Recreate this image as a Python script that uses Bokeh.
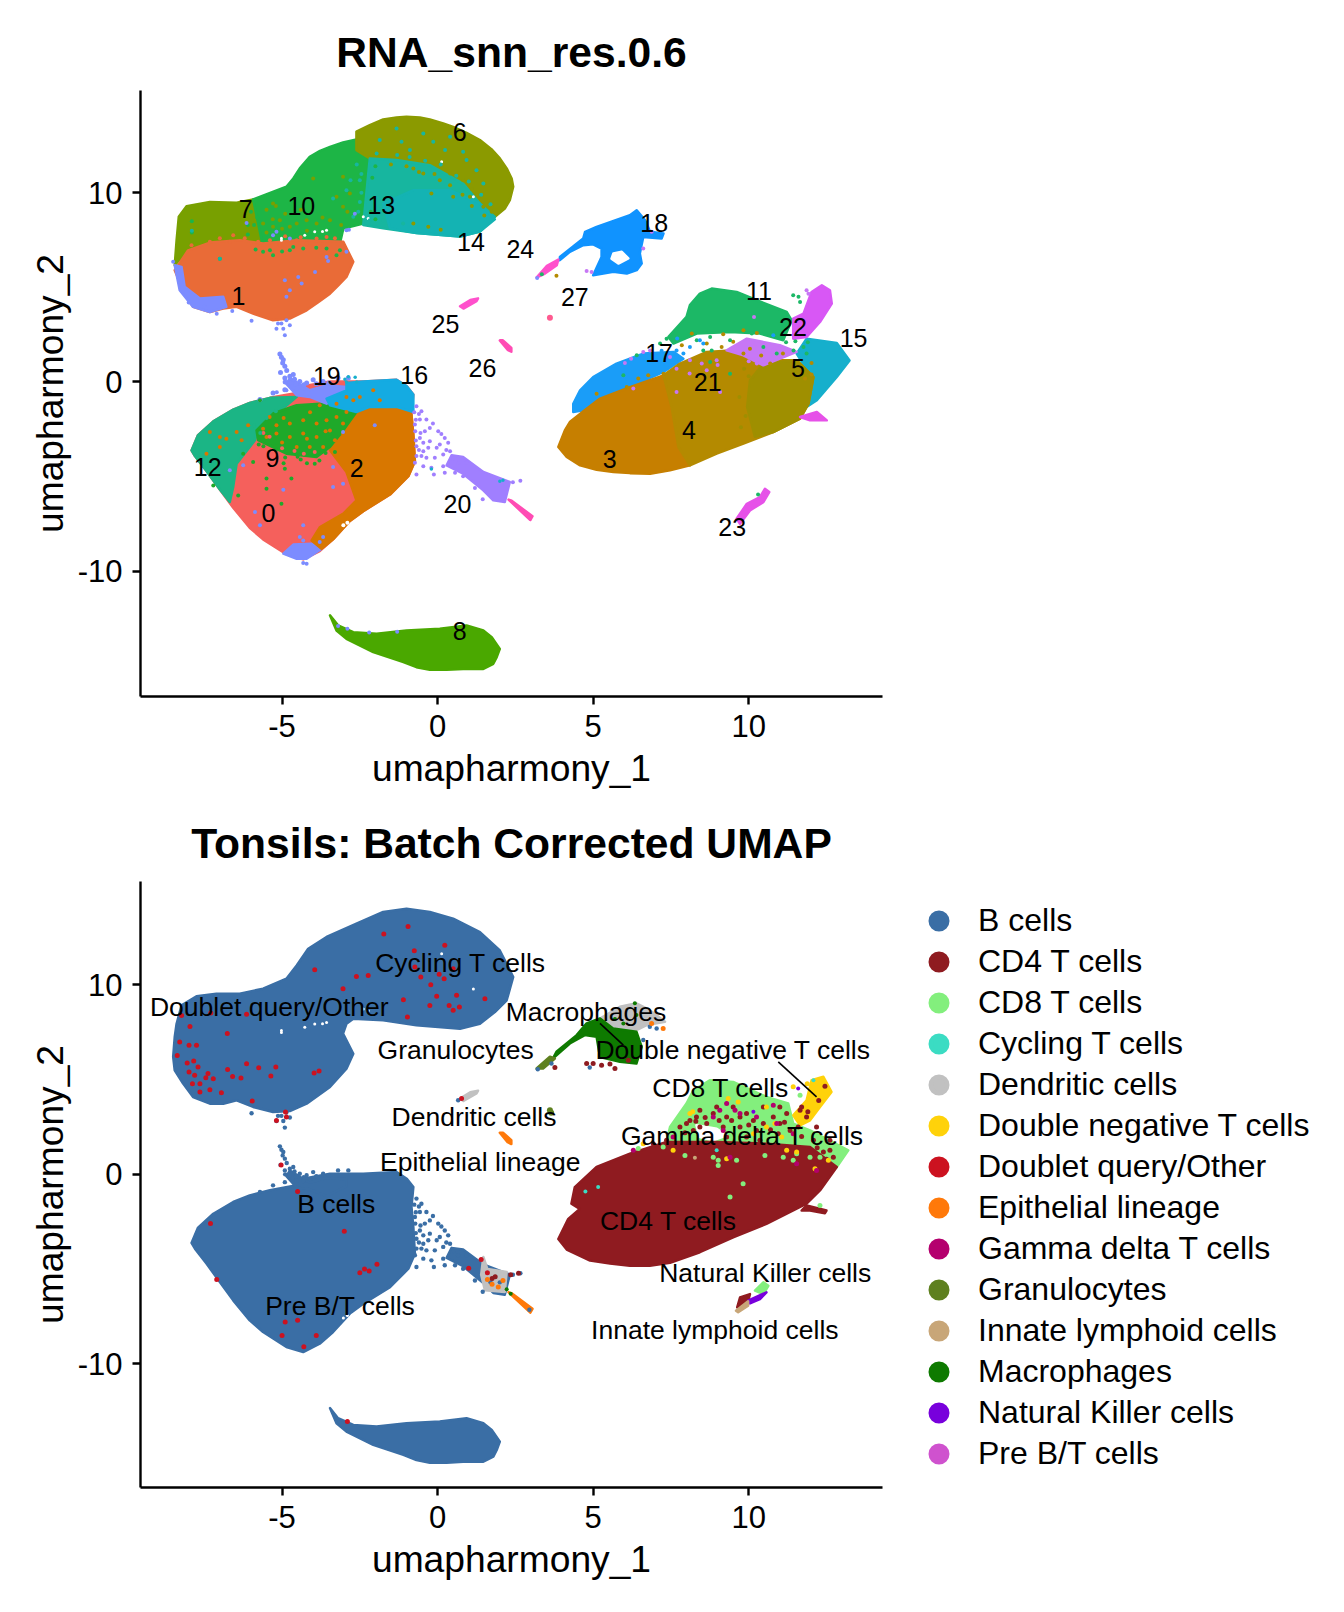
from bokeh.plotting import figure
from bokeh.layouts import column
from bokeh.models import Range1d, FixedTicker, Legend, LegendItem
from bokeh.core.properties import value
from bokeh.embed import file_html
from bokeh.resources import INLINE

FONT = "Liberation Sans"

# ---------- traced outlines of the dense point clouds, UMAP coordinates ----------
lower_all = [(-7.91,-3.62),(-7.7,-2.81),(-7.21,-2.08),(-6.57,-1.46),(-6.04,-1.11),(-5.39,-0.84),(-4.53,-0.58),(-4.32,-0.23),(-3.46,0.03),(-2.39,0.03),(-1.32,0.12),(-0.99,-0.23),(-0.78,-0.67),(-0.84,-1.72),(-0.78,-2.78),(-0.73,-4.19),(-0.94,-4.98),(-1.53,-5.95),(-2.39,-6.83),(-2.82,-7.35),(-3.36,-8.32),(-3.79,-8.94),(-4.32,-9.38),(-4.86,-9.11),(-5.61,-8.32),(-6.04,-7.71),(-6.57,-6.65),(-7.0,-5.68),(-7.43,-4.71),(-7.8,-3.92)]
upper_all = [(-8.5,6.2),(-8.45,7.25),(-8.39,7.95),(-8.23,8.92),(-7.75,9.4),(-7.11,9.54),(-6.36,9.54),(-5.61,9.8),(-4.86,10.33),(-4.53,11.03),(-4.16,11.91),(-3.57,12.53),(-2.61,13.23),(-1.75,13.85),(-1.0,14.02),(-0.25,13.85),(0.5,13.5),(1.36,12.79),(2.0,11.82),(2.43,10.42),(2.22,9.19),(1.84,8.57),(1.36,7.95),(0.72,7.69),(-0.68,7.87),(-1.75,8.13),(-2.71,8.22),(-2.93,7.95),(-3.04,7.43),(-2.71,6.37),(-2.93,5.58),(-3.46,4.61),(-4.21,3.73),(-4.75,3.34),(-5.29,3.29),(-5.93,3.56),(-6.46,3.91),(-6.89,3.73),(-7.32,3.73),(-7.86,4.08),(-8.18,4.79),(-8.45,5.49)]
c0_tip = [(-4.96,-9.08),(-4.64,-8.6),(-4.05,-8.55),(-3.73,-8.82),(-4.21,-9.35),(-4.53,-9.35)]
c1 = [(-8.45,5.91),(-8.02,6.96),(-7.32,7.37),(-6.36,7.49),(-5.61,7.32),(-4.53,7.49),(-3.03,7.41),(-2.71,6.35),(-2.93,5.55),(-3.2,5.1),(-3.46,4.67),(-3.85,4.2),(-4.21,3.79),(-4.75,3.35),(-5.29,3.26),(-5.93,3.61),(-6.46,3.97),(-6.89,3.88),(-7.32,3.70),(-7.86,3.97),(-8.18,4.85)]
c1_side = [(-8.45,6.17),(-8.23,6.08),(-8.13,5.03),(-7.64,4.41),(-6.89,4.50),(-6.79,3.97),(-7.32,3.70),(-7.86,3.97),(-8.29,4.85)]
c2 = [(-2.61,-1.59),(-2.18,-1.32),(-1.32,-1.32),(-0.94,-1.59),(-0.84,-1.72),(-0.78,-2.78),(-0.73,-4.19),(-0.94,-4.98),(-1.53,-5.95),(-2.39,-6.83),(-2.82,-7.35),(-3.36,-8.32),(-3.73,-8.82),(-4.05,-8.38),(-3.78,-7.67),(-3.03,-6.96),(-2.61,-6.26),(-2.93,-4.76),(-3.46,-3.61),(-3.03,-2.56)]
c3 = [(3.88,-3.44),(4.09,-2.56),(4.25,-2.12),(4.79,-1.41),(5.22,-0.88),(6.18,-0.27),(7.26,0.35),(7.52,-1.32),(7.74,-3.44),(8.11,-4.41),(7.47,-4.67),(6.83,-4.85),(6.18,-4.82),(5.65,-4.76),(5.11,-4.64),(4.58,-4.41),(4.15,-3.97)]
c4 = [(7.26,0.35),(7.79,0.97),(8.65,1.59),(9.4,1.67),(10.47,1.15),(11.54,1.15),(12.08,0.26),(11.92,-1.15),(11.65,-1.94),(10.79,-2.65),(9.83,-3.26),(8.97,-3.79),(8.11,-4.41),(7.74,-3.44),(7.52,-1.32)]
c5 = [(10.04,0.09),(10.47,0.97),(11.54,1.15),(12.08,0.26),(11.92,-1.15),(11.65,-1.94),(10.79,-2.65),(10.2,-2.9),(9.95,-1.32)]
c6 = [(-2.61,13.23),(-2.18,13.58),(-1.75,13.88),(-1.32,13.98),(-1.0,14.02),(-0.57,13.98),(-0.25,13.88),(0.18,13.67),(0.5,13.49),(0.93,13.17),(1.36,12.79),(1.73,12.31),(2.0,11.82),(2.22,11.29),(2.38,10.76),(2.43,10.32),(2.32,9.61),(2.16,9.17),(1.84,8.73),(1.36,9.43),(0.82,10.49),(-0.25,11.46),(-1.32,11.73),(-2.18,11.82),(-2.61,12.26)]
c7 = [(-8.45,6.17),(-8.39,7.49),(-8.32,8.73),(-8.07,9.29),(-7.32,9.52),(-6.46,9.47),(-5.93,9.65),(-5.61,7.14),(-7.32,7.37),(-8.02,6.96)]
c8 = [(-3.46,-12.34),(-3.2,-12.87),(-2.71,-13.23),(-1.96,-13.31),(-1.0,-13.14),(0.07,-13.05),(0.93,-12.87),(1.47,-13.14),(1.74,-13.49),(2.0,-14.11),(1.9,-14.55),(1.79,-14.9),(1.47,-15.17),(0.82,-15.17),(0.29,-15.22),(-0.25,-15.22),(-0.68,-15.08),(-1.1,-14.81),(-2.07,-14.28),(-2.93,-13.58),(-3.25,-13.14)]
c9 = [(-5.82,-2.56),(-5.29,-1.67),(-4.53,-1.23),(-3.78,-1.15),(-2.82,-1.5),(-2.61,-1.59),(-3.03,-2.56),(-3.46,-3.44),(-3.89,-3.97),(-4.86,-3.79),(-5.77,-3.08)]
c10 = [(-5.93,9.65),(-4.86,10.32),(-4.64,10.76),(-4.43,11.29),(-4.11,11.90),(-3.78,12.22),(-3.46,12.43),(-3.04,12.66),(-2.61,12.82),(-2.61,12.26),(-2.18,11.73),(-2.29,9.96),(-2.39,8.38),(-3.03,8.11),(-3.14,7.32),(-5.61,7.14)]
c11 = [(7.42,2.38),(8.0,3.44),(8.11,4.06),(8.43,4.67),(8.81,4.94),(9.61,4.76),(10.26,4.32),(11.22,3.70),(11.38,3.26),(11.11,2.2),(10.36,2.56),(9.4,2.64),(8.33,2.56),(7.58,2.03)]
c12 = [(-7.91,-3.62),(-7.7,-2.81),(-7.21,-2.08),(-6.57,-1.46),(-6.04,-1.11),(-5.39,-0.84),(-4.53,-0.79),(-5.29,-1.85),(-5.77,-2.56),(-5.87,-3.08),(-6.46,-4.32),(-6.57,-5.55),(-6.68,-6.35),(-7.0,-5.68),(-7.43,-4.71),(-7.8,-3.92)]
c13 = [(-2.18,11.82),(-1.32,11.73),(-0.25,11.46),(0.82,10.49),(1.36,9.43),(1.84,8.73),(1.36,7.95),(0.72,7.69),(-0.68,7.87),(-1.75,8.13),(-2.39,8.3)]
c14 = [(1.84,8.6),(1.36,7.95),(0.72,7.69),(-0.68,7.87),(-1.53,8.13),(-1.75,9.43),(-0.78,10.14),(0.4,10.14),(1.36,9.43)]
c15 = [(11.86,2.29),(12.83,2.06),(13.24,1.14),(12.83,0.26),(12.19,-0.97),(11.86,-1.32),(12.02,0.26),(11.54,1.5)]
c16 = [(-2.93,-0.05),(-2.39,0.03),(-1.32,0.12),(-0.99,-0.23),(-0.78,-0.67),(-0.78,-1.59),(-1.32,-1.32),(-2.18,-1.32),(-2.61,-1.59),(-3.46,-1.23),(-3.57,-0.88),(-2.93,-0.44)]
c17 = [(4.36,-1.59),(4.36,-1.15),(4.58,-0.44),(5.0,0.26),(5.75,0.97),(6.61,1.5),(7.58,1.59),(7.9,1.23),(7.26,0.53),(6.18,-0.27),(5.22,-0.8),(4.68,-1.5)]
c18 = [(3.93,6.61),(4.68,7.58),(4.74,7.94),(5.11,8.2),(6.18,8.82),(6.4,9.08),(6.67,8.55),(6.83,7.94),(7.26,7.85),(7.2,7.58),(6.61,7.67),(6.5,6.79),(6.56,6.26),(6.4,5.91),(6.08,5.73),(5.65,5.82),(5.0,5.64),(5.27,6.61),(5.27,7.05),(5.0,7.28),(4.68,7.23),(4.25,6.88),(3.93,6.44)]
c18_hole = [(5.65,6.79),(5.92,6.88),(6.13,6.53),(5.81,6.26),(5.59,6.52)]
c19 = [(-4.75,0.2),(-4.11,-0.44),(-3.57,-0.18),(-2.93,-0.26),(-2.93,-0.62),(-3.57,-1.15),(-4.11,-0.79),(-4.53,-0.70),(-4.86,-0.1)]
c20 = [(0.45,-3.88),(0.82,-3.97),(1.47,-4.76),(2.32,-5.29),(2.16,-6.35),(1.79,-6.26),(1.47,-5.73),(0.82,-4.85),(0.29,-4.41)]
c21 = [(9.29,1.67),(9.94,2.29),(11.0,1.94),(11.54,1.59),(10.47,0.88),(9.83,1.41)]
c22 = [(11.43,3.35),(11.76,3.61),(12.02,4.76),(12.35,5.11),(12.61,4.85),(12.67,4.14),(12.29,3.17),(11.86,2.38),(11.43,2.29)]
c22_low = [(11.65,-1.85),(12.19,-1.59),(12.51,-2.03),(11.97,-2.03)]
c23 = [(9.61,-7.23),(9.94,-6.44),(10.36,-6.09),(10.52,-5.65),(10.66,-5.82),(10.47,-6.35),(10.04,-6.79),(9.72,-7.5)]
c24 = [(3.18,5.52),(3.5,6.12),(3.88,6.47),(3.83,6.17),(3.45,5.73)]
c25 = [(0.83,3.88),(1.25,4.27),(1.3,4.42),(1.05,4.33),(0.72,4.0)]
c26 = [(2.0,2.2),(2.1,2.2),(2.37,1.8),(2.37,1.6),(2.25,1.7)]
c_tail = [(2.28,-6.22),(2.38,-6.28),(3.05,-7.1),(2.98,-7.3)]
arm = [(-5.07,1.48),(-4.96,1.18),(-4.91,0.83),(-5.05,0.5),(-4.91,0.21),(-4.75,-0.05),(-4.53,-0.32),(-4.32,-0.35),(-4.64,0.39),(-4.43,0.03),(-4.21,-0.05),(-4.0,0.12),(-3.68,0.03),(-3.2,0.21),(-2.87,0.21),(-5.29,-0.58),(-4.91,-0.41),(-5.71,-0.93),(-5.02,1.3),(-4.98,1.0),(-4.85,0.6),(-4.75,0.3),(-4.9,0.0),(-4.6,0.15),(-4.55,-0.1),(-4.3,-0.15),(-3.9,-0.1),(-3.5,-0.05)]

# bottom panel outlines
cd4 = [(3.88,-3.41),(4.2,-2.35),(4.57,-1.82),(4.3,-1.55),(4.41,-0.67),(5.11,0.39),(6.18,1.09),(7.36,1.71),(8.97,1.71),(10.57,1.62),(11.97,1.44),(12.83,0.39),(12.29,-0.85),(11.86,-1.55),(10.57,-2.61),(9.5,-3.32),(8.43,-4.11),(7.47,-4.67),(6.82,-4.82),(6.18,-4.82),(5.54,-4.7),(4.9,-4.55),(4.15,-3.97)]
cd4_tail = [(11.86,-1.64),(12.5,-1.91),(12.45,-2.05),(11.97,-1.91),(11.7,-1.91)]
cd8 = [(7.47,2.5),(8.0,3.74),(8.22,4.44),(8.75,4.97),(9.5,4.88),(10.57,4.09),(11.27,3.74),(11.43,2.68),(11.97,2.32),(13.2,1.27),(12.83,0.39),(11.97,1.44),(10.57,1.62),(8.97,1.71),(7.36,1.71)]
cd8_hole = [(8.32,2.59),(8.97,2.41),(9.29,2.06),(8.86,1.8),(8.43,1.97)]
dn = [(11.43,3.12),(11.86,3.91),(12.02,4.97),(12.4,5.15),(12.66,4.35),(12.29,3.56),(11.97,2.85),(11.65,2.59)]
mac = [(3.82,6.47),(4.47,7.35),(4.79,7.97),(5.22,8.23),(5.64,7.7),(6.39,7.53),(6.56,6.73),(6.39,5.85),(5.86,5.94),(5.22,6.2),(5.11,7.26),(4.73,7.35),(4.25,6.91),(3.71,6.12)]
gran = [(3.18,5.59),(3.61,6.21),(3.77,6.12),(3.39,5.59)]
dc_top = [(5.22,8.23),(5.86,8.85),(6.39,9.03),(6.82,8.67),(7.31,8.06),(6.72,7.88),(6.39,7.62),(5.64,7.7)]
dc_clump = [(1.47,-4.36),(1.6,-5.0),(2.22,-5.15),(2.16,-6.21),(1.52,-6.12),(1.4,-5.3)]
nk = [(9.98,-6.67),(10.57,-6.23),(10.36,-6.58),(10.04,-6.81)]
nk_cd8 = [(10.2,-6.14),(10.47,-5.7),(10.63,-5.88),(10.47,-6.32)]
nk_ilc = [(9.59,-7.2),(9.98,-6.7),(9.98,-6.93),(9.66,-7.28)]
nk_cd4 = [(9.63,-7.02),(9.72,-6.5),(10.04,-6.32),(9.98,-6.7)]

# ---------- individual points ----------
streak = [(-0.68,-1.28),(-0.52,-1.55),(-0.36,-1.99),(-0.25,-2.43),(0.02,-2.6),(0.23,-2.96),(0.34,-3.22),(-0.57,-2.96),(-0.46,-3.22),(-0.68,-3.4),(-0.25,-3.13),(-0.03,-3.48),(-0.46,-3.66),(-0.68,-3.92),(-0.36,-4.01),(-0.09,-4.01),(0.18,-3.83),(0.4,-3.66),(-0.73,-4.27),(-0.46,-4.45),(-0.2,-4.54),(0.18,-4.45),(-0.68,-4.89),(-0.12,-4.89),(0.23,-4.8),(0.56,-4.8),(0.82,-4.98),(0.66,-4.27),(0.93,-4.27),(-0.73,-2.25),(-0.57,-1.99),(-0.41,-2.6),(0.07,-3.31),(-0.3,-3.48),(-0.52,-3.92),(-0.6,-1.7),(-0.15,-2.2),(0.12,-2.75),(0.28,-3.6),(0.5,-4.05),(2.42,-5.3),(2.66,-5.22),(1.2,-5.6),(1.45,-6.2),(-0.75,-1.6),(-0.7,-2.0),(-0.72,-2.6),(-0.7,-3.1),(-0.55,-2.7),(-0.6,-3.6)]
pts_upper_orange = [(-6.68,7.41),(-6.57,7.76),(-5.77,7.41),(-5.39,7.49),(-5.07,7.23),(-4.53,7.49),(-4.21,7.32),(-3.89,7.58),(-3.57,7.67),(-7.91,7.23),(-7.32,7.41),(-7.0,7.6),(-6.2,7.6),(-4.9,7.7),(-4.4,7.65),(-3.3,7.6)]
pts_upper_green = [(-4.75,6.96),(-5.39,6.96),(-5.61,6.88),(-5.29,6.7),(-4.64,7.14),(-4.32,7.05),(-3.57,7.05),(-3.14,6.96),(-3.25,6.7),(-7.0,6.52),(-5.85,7.0),(-5.0,6.9),(-3.9,7.1),(-7.9,8.5),(-7.9,7.9),(-6.1,8.3),(-6.0,9.0),(-5.9,8.3),(-6.1,7.8),(-5.8,8.7),(-2.1,10.8),(-2.0,11.4),(-2.05,9.7),(-2.15,9.0),(-2.0,8.6)]
pts_upper_olive = [(-5.29,8.2),(-5.61,8.38),(-5.07,8.55),(-4.75,8.2),(-4.53,8.38),(-4.21,8.55),(-3.89,8.38),(-3.46,8.55),(-3.04,9.26),(-3.25,9.79),(-2.82,9.96),(-4.0,10.76),(-3.04,10.85),(-5.29,9.43),(-5.0,8.1),(-4.2,8.0),(-3.7,8.7),(-3.1,8.3),(-2.9,9.0),(-5.5,7.9),(-4.9,8.9),(-4.4,9.1),(-5.5,9.1),(-5.3,8.6),(-5.2,9.3)]
pts_upper_teal = [(-2.5,10.67),(-2.8,10.67),(-3.36,9.7),(-2.93,10.14),(-2.5,9.52),(-2.71,8.73),(-2.18,8.55),(-1.75,8.55),(-1.11,8.38),(-1.32,13.4),(-1.16,12.7),(-0.46,13.14),(0.24,12.26),(0.82,12.17),(1.25,11.2),(1.47,10.49),(-1.86,12.79),(-1.53,11.55),(-1.96,12.08),(-0.89,12.26),(-0.14,12.7),(0.4,12.96),(0.93,11.73),(-7.0,6.52),(-7.9,8.0),(-2.45,11.0),(-2.6,11.5),(-2.45,10.0),(-2.55,9.0),(-1.3,12.0),(-0.9,11.9),(-0.4,11.7),(0.1,11.5),(0.6,10.9),(1.0,10.6),(1.4,9.9),(1.7,9.4)]
pts_teal_olive = [(-0.78,11.29),(-0.2,9.96),(-0.78,8.38),(1.04,9.79),(1.47,9.26),(0.4,11.02),(0.07,10.67),(-0.46,11.02),(0.82,10.67),(0.5,9.79),(1.74,9.0),(1.1,10.2),(-0.3,8.2),(0.1,8.05),(-1.5,11.5),(-1.0,11.4),(-0.6,11.1),(-0.1,11.0),(0.4,10.4),(0.8,9.9),(1.1,9.3),(1.5,8.8)]
pts_lower_orange = [(-5.61,-2.47),(-5.18,-2.29),(-4.75,-2.2),(-4.32,-2.03),(-3.89,-2.2),(-3.57,-2.03),(-3.25,-1.85),(-2.93,-1.59),(-3.04,-2.2),(-3.46,-2.56),(-3.89,-2.91),(-4.32,-2.73),(-4.75,-2.91),(-5.18,-2.73),(-5.5,-2.91),(-4.53,-3.44),(-4.11,-3.44),(-3.68,-3.44),(-3.3,-3.08),(-3.04,-2.73),(-3.25,-1.15),(-3.79,-1.23),(-2.71,-0.97),(-2.93,-0.79),(-2.07,-0.44),(-1.86,-0.97),(-2.5,-0.79),(-7.32,-2.64),(-7.0,-2.91),(-6.79,-3.0),(-7.0,-3.44),(-6.46,-2.64),(-6.09,-2.29),(-7.43,-3.79),(-6.3,-3.08),(-4.95,-1.9),(-4.1,-1.6),(-3.6,-2.6),(-5.0,-3.2),(-4.2,-3.0),(-5.4,-1.85)]
pts_lower_green = [(-4.91,-4.59),(-4.7,-5.11),(-5.5,-5.11),(-3.95,-4.32),(-6.25,-3.79),(-6.41,-6.0),(-5.5,-5.64),(-5.02,-6.44),(-5.93,-4.23),(-5.71,-0.97),(-7.21,-5.47),(-4.95,-4.3),(-4.4,-4.1),(-5.6,-3.4),(-5.2,-3.6),(-4.9,-4.0),(-4.5,-3.95),(-4.2,-4.3),(-3.8,-4.15),(-3.6,-3.75),(-3.3,-3.7),(-5.75,-3.3)]
pts_lower_coral = [(-5.4,-2.9),(-5.0,-3.5),(-4.6,-3.65),(-4.3,-3.8),(-3.95,-3.7),(-5.6,-2.7)]
pts_lower_teal = [(-5.5,-1.9),(-5.9,-2.3),(-5.2,-1.55),(-5.7,-2.7)]
pts_c5_in_c4 = [(9.7,-0.8),(9.9,-1.8),(10.0,0.3),(9.75,-2.4),(9.85,0.7)]
pts_purple_blue = [(-3.57,6.61),(-3.52,6.4),(-2.93,6.88),(-3.94,5.82),(-4.48,5.55),(-4.91,5.38),(-4.75,4.85),(-4.86,4.5),(-4.37,5.2),(-5.98,3.23),(-5.18,2.82),(-5.02,3.09),(-4.86,3.26),(-5.13,3.09),(-4.91,2.47),(-4.96,2.82),(-4.75,3.0),(-5.18,7.94),(-4.75,7.58),(-5.29,7.76),(-2.66,8.9),(-2.93,8.02),(-2.85,8.05),(-6.14,8.41),(-5.87,-6.88),(-4.96,-5.7),(-4.32,-7.58),(-5.71,-7.58),(-3.36,-4.5),(-3.04,-2.64),(-2.02,-2.29),(-3.04,-5.38),(-3.36,-5.55),(-6.68,-4.67),(-6.25,-4.41),(-5.29,-0.6),(-5.17,-0.55),(-4.86,-0.44),(-4.43,-8.2),(-4.21,-9.61),(-4.32,-9.57),(-4.64,-8.73),(-3.79,-8.46),(-4.32,-8.38),(-3.68,-8.2),(-4.43,-8.9),(-8.5,6.35),(-8.0,4.2),(-7.5,4.0),(-7.1,3.6),(-6.6,3.75),(-3.2,-12.9),(-2.9,-13.05),(-2.2,-13.25),(-1.3,-13.2),(3.2,5.5)]
pts_lower_white = [(-3.03,-7.58),(-2.85,-7.75),(-2.9,-7.45)]
pts_upper_white = [(-5.02,7.49),(-4.27,7.76),(-3.95,7.94),(-3.57,8.02),(-2.39,8.73),(-2.23,8.64),(1.15,9.79),(0.13,11.64),(-5.02,7.6),(-3.7,7.95)]
pts_hook = [(-2.93,0.0),(-2.87,0.27),(-2.65,0.25),(-2.6,0.0),(-2.98,0.15),(-0.2,-4.6),(2.1,-5.2),(2.0,-5.25)]
pts_right_brown = [(8.17,2.56),(9.18,2.52),(9.83,2.73),(10.26,2.59),(7.85,1.94),(8.65,2.03),(9.5,2.12),(9.13,1.85),(10.04,1.76),(9.83,1.5),(10.69,0.97),(12.02,1.0),(12.02,0.4),(11.81,0.18),(7.26,0.44),(6.45,0.18),(6.08,-0.27),(5.11,-0.62),(6.77,0.35),(3.82,5.62),(11.1,1.5),(10.4,1.4),(8.95,1.5)]
pts_right_green = [(5.97,0.35),(7.36,2.29),(7.15,2.03),(6.4,1.41),(8.33,2.2),(8.76,2.38),(8.54,1.67),(8.81,1.67),(9.4,2.2),(10.1,2.56),(10.47,1.85),(10.9,1.5),(11.44,1.67),(11.76,1.85),(11.43,4.58),(11.6,4.5),(11.65,4.23),(11.86,1.5),(9.4,0.44),(8.76,1.06),(11.2,2.1),(11.5,2.15),(11.9,2.1),(10.3,-5.95),(3.35,5.7)]
pts_right_blue = [(7.9,1.5),(8.43,2.2),(8.54,2.03),(8.11,1.85),(7.68,1.67),(10.79,2.47),(7.68,1.32),(7.2,1.65),(7.7,2.3)]
pts_right_purple = [(6.02,1.0),(6.22,1.23),(6.61,1.59),(6.83,1.67),(7.47,1.32),(7.68,0.7),(8.11,1.15),(8.49,0.97),(8.97,1.15),(8.65,0.62),(7.68,-0.53),(6.29,-0.35),(9.08,-0.53),(10.26,0.97),(9.45,1.76),(11.86,4.85),(11.92,4.67),(10.17,3.44),(6.88,7.94),(6.61,7.05),(4.95,5.82),(4.79,5.87),(10.0,1.1),(10.8,1.7),(9.0,0.9),(8.1,0.45)]

red_doublet = [(-7.96,7.81),(-8.29,6.99),(-7.99,6.81),(-7.75,6.81),(-8.37,6.28),(-8.05,5.88),(-7.84,5.98),(-7.7,5.67),(-7.99,5.4),(-7.81,5.23),(-7.45,5.1),(-7.38,5.32),(-7.21,5.05),(-6.75,5.53),(-6.59,5.17),(-6.32,5.09),(-7.88,4.79),(-7.64,4.79),(-7.32,4.47),(-6.95,4.31),(-7.64,4.35),(-6.14,5.84),(-5.75,5.63),(-5.36,5.19),(-5.2,5.67),(-3.97,5.35),(-3.81,5.46),(-5.96,3.87),(-4.89,3.29),(-4.86,3.03),(-5.18,2.85),(-8.23,8.39),(-7.29,8.52),(-6.76,7.43),(-6.14,8.45),(-1.73,12.69),(-0.95,13.09),(-0.75,11.81),(-3.95,10.8),(-3.04,9.8),(-2.61,10.45),(-2.23,10.5),(-0.54,10.42),(-0.22,10.01),(0.05,10.56),(0.21,10.33),(0.5,10.86),(-0.03,9.4),(0.61,9.45),(0.37,8.92),(0.7,8.83),(0.5,8.66),(-0.97,8.31),(0.23,12.09),(-0.73,10.94),(-1.1,9.22),(-0.25,8.92),(1.52,9.27),(-5.03,0.5),(-4.5,-0.9),(-7.3,-2.6),(-7.1,-5.55),(-3.0,-3.0),(-2.5,-5.2),(-2.2,-5.1),(-2.35,-5.0),(-1.95,-4.75),(-4.9,-7.8),(-4.5,-7.7),(-5.0,-8.5),(-4.3,-9.1),(-3.9,-8.5),(0.77,4.0),(1.0,-4.95),(1.4,-4.5),(1.6,-5.2),(-2.9,-13.05)]
cd4_dots = [(8.43,3.38),(8.86,3.21),(9.29,3.03),(9.5,3.56),(9.93,3.21),(10.47,3.56),(10.79,3.03),(11.22,3.21),(8.11,2.85),(7.79,2.5),(8.22,2.32),(8.65,2.68),(9.18,2.5),(9.72,2.5),(10.25,2.32),(10.47,2.68),(11.0,2.68),(11.33,2.32),(9.29,1.97),(9.93,1.97),(10.36,1.8),(12.08,1.8),(12.4,1.18),(12.72,0.91),(12.61,1.27),(8.97,3.56),(8.43,2.5),(8.0,2.68),(7.36,1.8),(6.93,1.62),(8.32,3.03),(9.72,3.03),(10.15,2.85),(11.0,3.56),(11.65,3.38),(11.7,3.55),(11.86,3.03),(12.45,4.65),(11.59,2.5),(12.18,2.5),(12.61,1.8),(8.6,3.0),(9.05,2.85),(9.45,2.85),(10.0,2.6),(10.7,2.35),(8.3,2.8),(7.95,2.2),(10.95,2.15),(11.15,2.75),(11.7,2.0),(12.2,1.4),(12.5,0.8),(11.9,3.3),(12.25,3.9),(3.77,5.64),(5.7,5.59),(4.79,5.85),(5.27,5.76),(5.0,5.85),(5.54,5.82),(6.13,6.03),(2.35,-5.3),(2.6,-5.22),(1.75,-5.5),(1.85,-5.4),(12.25,-1.85)]
mag_dots = [(9.29,3.74),(9.72,3.21),(9.56,3.38),(10.79,3.65),(9.07,3.38),(8.86,3.03),(7.57,1.97),(6.29,1.27),(10.25,3.03),(11.54,0.56),(12.18,0.21),(10.9,2.68),(9.4,0.91),(11.43,2.15),(9.18,2.32)]
yel_dots = [(11.43,4.62),(11.88,4.79),(9.66,3.82),(9.34,4.0),(8.11,3.21),(8.2,3.3),(6.61,1.62),(7.57,1.27),(10.15,2.15),(10.57,2.5),(11.06,1.97),(11.22,1.27),(11.54,1.18),(12.56,0.74),(12.13,0.3),(9.29,0.83),(10.57,3.56),(10.84,2.68)]
cd8_dots = [(7.95,1.0),(8.86,0.91),(9.02,0.74),(9.02,0.47),(9.4,-1.2),(9.82,-0.5),(10.52,1.0),(9.61,0.74),(11.11,0.91),(11.54,1.09),(12.29,-1.64),(6.45,1.36),(7.25,1.44),(11.65,4.18),(11.43,0.74),(11.97,0.91),(12.29,0.91)]
cyc_dots = [(5.16,-0.67),(8.97,1.27),(12.08,4.97),(4.75,-0.9)]
epi_dots = [(6.88,7.97),(7.25,7.7),(1.6,-5.55),(1.95,-5.95),(2.1,-5.6),(1.75,-5.8)]
blue_extra = [(4.89,5.64),(6.61,7.09),(3.66,5.85),(3.22,5.55),(6.82,7.79),(7.04,7.7),(0.66,3.91),(1.7,-5.7),(2.0,-5.7),(2.95,-7.15)]
mac_dots = [(6.34,9.03),(5.97,7.97),(6.39,8.41),(2.35,-6.3),(2.22,-6.07),(5.7,8.2)]
nk_dots = [(11.59,4.53),(10.15,3.3)]
tan_dots = [(8.27,0.88)]
gran_dots = [(3.61,3.39),(3.65,3.25)]

# ---------- text ----------
cluster_names = ["0","1","2","3","4","5","6","7","8","9","10","11","12","13","14","15","16","17","18","19","20","21","22","23","24","25","26","27"]
cluster_label_x = [-5.44,-6.4,-2.6,5.53,8.08,11.58,0.71,-6.17,0.71,-5.31,-4.38,10.33,-7.39,-1.81,1.07,13.37,-0.75,7.12,6.96,-3.56,0.64,8.68,11.42,9.47,2.66,0.25,1.44,4.41]
cluster_label_y = [-6.95,4.53,-4.56,-4.07,-2.54,0.72,13.24,9.15,-13.15,-4.01,9.32,4.8,-4.5,9.37,7.41,2.35,0.39,1.54,8.39,0.34,-6.46,0.01,2.9,-7.66,7.03,3.06,0.72,4.48]

celltypes = ["B cells","CD4 T cells","CD8 T cells","Cycling T cells","Dendritic cells","Double negative T cells","Doublet query/Other","Epithelial lineage","Gamma delta T cells","Granulocytes","Innate lymphoid cells","Macrophages","Natural Killer cells","Pre B/T cells"]
celltype_colors = ["#3A6EA5","#8F1B20","#83EF7D","#3BDCC3","#C1C1C1","#FFD20A","#CC1220","#FF790A","#B4006E","#5E801F","#C8A678","#0E7A00","#7800DC","#CF52CE"]
repel_names = ["Cycling T cells","Doublet query/Other","Macrophages","Granulocytes","Double negative T cells","CD8 T cells","Dendritic cells","Gamma delta T cells","Epithelial lineage","B cells","CD4 T cells","Natural Killer cells","Pre B/T cells","Innate lymphoid cells"]
repel_x = [0.74,-5.41,4.77,0.58,9.5,9.1,1.17,9.8,1.37,-3.26,7.42,10.53,-3.13,8.91]
repel_y = [11.17,8.83,8.56,6.55,6.55,4.54,3.02,2.05,0.64,-1.54,-2.46,-5.22,-6.96,-8.21]
leader_x = [[5.22,5.97],[10.95,12.18]]
leader_y = [[7.97,6.82],[5.94,4.09]]

X_TICKS = [-5, 0, 5, 10]
Y_TICKS = [-10, 0, 10]

def make(title, ylo, yhi, top):
    p = figure(output_backend="svg", toolbar_location=None,
               x_range=Range1d(-9.55, 14.3), y_range=Range1d(ylo, yhi),
               frame_width=742, frame_height=606,
               min_border_left=140, min_border_right=460, min_border_top=top, min_border_bottom=105,
               x_axis_label="umapharmony_1", y_axis_label="umapharmony_2", title=title,
               background_fill_color="white", border_fill_color="white")
    p.outline_line_color = None
    p.grid.visible = False
    p.title.align = "center"
    p.title.text_font = FONT
    p.title.text_font_size = "42.6px"
    p.title.text_font_style = "bold"
    p.title.text_color = "black"
    p.title.standoff = 30
    for ax, t in ((p.xaxis[0], X_TICKS), (p.yaxis[0], Y_TICKS)):
        ax.ticker = FixedTicker(ticks=t)
        ax.major_label_overrides = {k: str(k) for k in t}
        ax.axis_line_width = 2.4
        ax.major_tick_line_width = 2.4
        ax.major_tick_out = 8
        ax.major_tick_in = 0
        ax.minor_tick_line_color = None
        ax.major_label_text_font = FONT
        ax.major_label_text_font_size = "31px"
        ax.major_label_text_color = "black"
        ax.axis_label_text_font = FONT
        ax.axis_label_text_font_size = "37.2px"
        ax.axis_label_text_font_style = "normal"
        ax.axis_label_text_color = "black"
    p.xaxis[0].major_label_standoff = 10
    p.yaxis[0].major_label_standoff = 10
    p.xaxis[0].axis_label_standoff = 7
    p.yaxis[0].axis_label_standoff = 4
    return p

def poly(p, pts, color):
    p.patch([a for a, _ in pts], [b for _, b in pts], fill_color=color, line_color=color, line_width=2.5, line_join="round")

def dots(p, pts, color, size=3.6):
    return p.scatter([a for a, _ in pts], [b for _, b in pts], size=size, color=color, line_width=0, marker="circle")

# ---------- top panel ----------
p1 = make("RNA_snn_res.0.6", -16.63, 15.41, 90)
C = dict(c0="#F5605C", c1="#E96B37", c2="#D87700", c3="#C67F00", c4="#B48A00", c5="#9F8F00", c6="#8B9A00",
         c7="#78A000", c8="#4AA800", c9="#1FA92A", c10="#1DB546", c11="#1CB866", c12="#1BB585", c13="#17B69F",
         c14="#14B3B3", c15="#16AFCC", c16="#14ABE2", c17="#1A9DF8", c18="#1093FF", c19="#7C8CFF", c20="#A07FFF",
         c21="#C777F5", c22="#D857F5", c23="#E651E8", c24="#FF50CC", c25="#FF4CB4", c26="#FF5A9E", c27="#FF5A90")
poly(p1, c7, C["c7"]); poly(p1, c10, C["c10"]); poly(p1, c6, C["c6"]); poly(p1, c13, C["c13"]); poly(p1, c14, C["c14"])
poly(p1, c1, C["c1"]); poly(p1, c1_side, C["c19"])
poly(p1, lower_all, C["c0"]); poly(p1, c12, C["c12"]); poly(p1, c0_tip, C["c19"]); poly(p1, c2, C["c2"]); poly(p1, c9, C["c9"])
poly(p1, c19, C["c19"]); poly(p1, c16, C["c16"]); poly(p1, c20, C["c20"]); poly(p1, c_tail, C["c25"])
poly(p1, c8, C["c8"]); poly(p1, c18, C["c18"]); poly(p1, c18_hole, "#FFFFFF"); poly(p1, c24, C["c24"])
poly(p1, c25, C["c24"]); poly(p1, c26, C["c25"])
poly(p1, c11, C["c11"]); poly(p1, c15, C["c15"]); poly(p1, c17, C["c17"]); poly(p1, c3, C["c3"]); poly(p1, c4, C["c4"])
poly(p1, c5, C["c5"]); poly(p1, c21, C["c21"]); poly(p1, c22, C["c22"]); poly(p1, c22_low, C["c23"]); poly(p1, c23, C["c23"])
dots(p1, streak, C["c20"], 4)
dots(p1, arm, C["c19"], 5)
dots(p1, pts_upper_white, "#FFFFFF", 3)
dots(p1, pts_upper_orange, C["c1"], 4)
dots(p1, pts_upper_green, C["c10"], 4)
dots(p1, pts_upper_olive, C["c7"], 4)
dots(p1, pts_upper_teal, C["c13"], 4)
dots(p1, pts_teal_olive, C["c6"], 4)
dots(p1, pts_lower_orange, C["c2"], 4)
dots(p1, pts_lower_green, C["c9"], 4)
dots(p1, pts_lower_coral, C["c0"], 4)
dots(p1, pts_lower_teal, C["c12"], 4)
dots(p1, pts_c5_in_c4, C["c5"], 4)
dots(p1, pts_lower_white, "#FFFFFF", 4)
dots(p1, pts_purple_blue, C["c19"], 4)
dots(p1, pts_hook, C["c15"], 3.5)
dots(p1, pts_right_brown, C["c4"], 4)
dots(p1, pts_right_green, C["c11"], 4)
dots(p1, pts_right_blue, C["c17"], 4)
dots(p1, pts_right_purple, C["c21"], 4)
dots(p1, [(3.61, 3.39)], C["c27"], 6)
p1.text(cluster_label_x, cluster_label_y, text=cluster_names, text_font=value(FONT), text_font_size="25px",
        text_align="center", text_baseline="middle", text_color="black")

# ---------- bottom panel ----------
p2 = make("Tonsils: Batch Corrected UMAP", -16.53, 15.46, 80)
B, CD4, CD8, CYC, DC, DN, RED, EPI, GAM, GRA, ILC, MAC, NK, PRE = celltype_colors
for outline in (upper_all, lower_all, c8, c19, c20):
    poly(p2, outline, B)
poly(p2, dc_clump, DC)
poly(p2, c25, DC)
poly(p2, c26, EPI)
poly(p2, c_tail, EPI)
poly(p2, dc_top, DC)
poly(p2, mac, MAC)
poly(p2, gran, GRA)
poly(p2, cd8, CD8)
poly(p2, cd8_hole, "#FFFFFF")
poly(p2, dn, DN)
poly(p2, cd4, CD4)
poly(p2, cd4_tail, CD4)
poly(p2, nk_cd8, CD8)
poly(p2, nk_cd4, CD4)
poly(p2, nk, NK)
poly(p2, nk_ilc, ILC)
dots(p2, streak + blue_extra + arm, B, 4.4)
dots(p2, pts_upper_white + pts_lower_white, "#FFFFFF", 3)
dots(p2, pts_purple_blue[9:17], B, 4.4)
dots(p2, cd4_dots, CD4, 5)
dots(p2, cd8_dots, CD8, 5)
dots(p2, cyc_dots, CYC, 4)
dots(p2, yel_dots, DN, 5)
dots(p2, red_doublet, RED, 5)
dots(p2, epi_dots, EPI, 5)
dots(p2, mag_dots, GAM, 5)
dots(p2, gran_dots, GRA, 6)
dots(p2, tan_dots, ILC, 4)
dots(p2, mac_dots, MAC, 4)
dots(p2, nk_dots, NK, 4)
p2.multi_line(leader_x, leader_y, line_color="black", line_width=1.6)
p2.text(repel_x, repel_y, text=repel_names, text_font=value(FONT), text_font_size="26.5px",
        text_align="center", text_baseline="middle", text_color="black")

nan = float("nan")
legend_marks = [p2.scatter(x=[nan], y=[nan], marker="circle", fill_color=c, line_color=c, line_width=4.6) for c in celltype_colors]
legend = Legend(items=[LegendItem(label=n, renderers=[m]) for n, m in zip(celltypes, legend_marks)],
                location=(36, 13), orientation="vertical",
                glyph_width=41, glyph_height=41, spacing=0, padding=0, margin=0,
                label_standoff=19, label_text_font=FONT, label_text_font_size="32px", label_text_color="black",
                label_height=30, border_line_color=None, background_fill_alpha=0)
p2.add_layout(legend, "right")

open("out.html", "w").write(file_html(column(p1, p2, spacing=0), INLINE))
